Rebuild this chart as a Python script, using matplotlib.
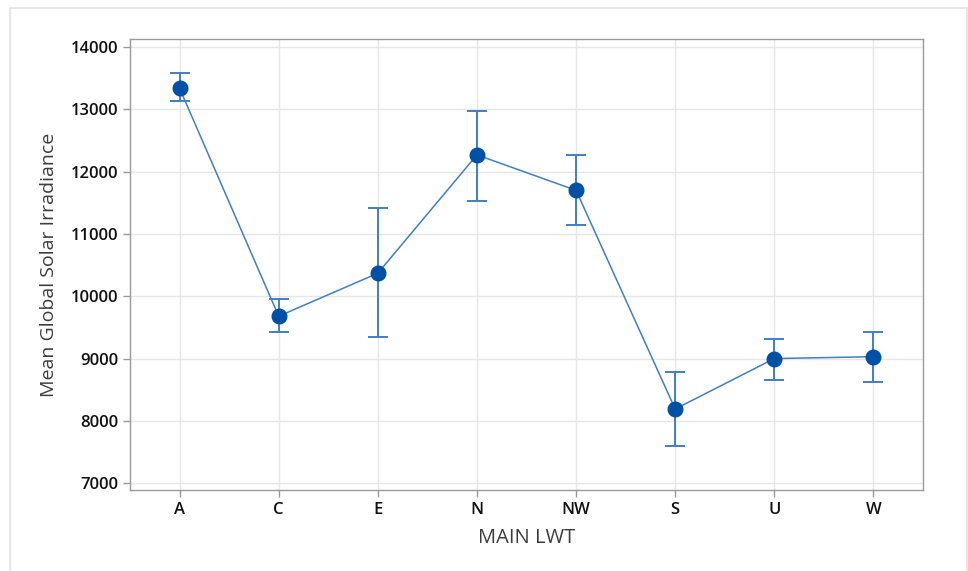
import numpy as np
import matplotlib
matplotlib.use("Agg")
from matplotlib import pyplot as plt
from matplotlib.patches import Rectangle

# data
lwt = ['A', 'C', 'E', 'N', 'NW', 'S', 'U', 'W']
mean_irr = [13340, 9680, 10370, 12270, 11700, 8190, 9000, 9030]
upper_ci = [13590, 9950, 11420, 12970, 12270, 8780, 9320, 9420]
lower_ci = [13130, 9430, 9340, 11536, 11150, 7600, 8650, 8620]

plt.rcParams['font.family'] = ['Open Sans', 'DejaVu Sans']

fig = plt.figure(figsize=(9.68, 5.71), dpi=100)
# light frame round the whole picture
fig.patches.append(Rectangle((10/968, -0.01), 957/968, 1 - 8/571 + 0.01,
                             transform=fig.transFigure, fill=False,
                             edgecolor='#e3e3e3', linewidth=1.2))

ax = fig.add_axes([130/968, 1 - 490/571, 793/968, 451/571])

x = np.arange(len(lwt))
m = np.array(mean_irr)
yerr = [m - np.array(lower_ci), np.array(upper_ci) - m]

ax.plot(x, m, color='#3f7fc4', linewidth=1.1, zorder=2)
ax.errorbar(x, m, yerr=yerr, fmt='none', ecolor='#3f7fc4', elinewidth=1.4,
            capsize=7, capthick=1.4, zorder=3)
ax.plot(x, m, 'o', color='#0050a5', markersize=10.5, zorder=4)

ax.set_xlim(-0.5, len(lwt) - 0.5)
ax.set_ylim(6890, 14130)
ax.set_xticks(x)
ax.set_xticklabels(lwt)
ax.set_yticks(np.arange(7000, 14001, 1000))

ax.grid(True, color='#e6e6e6', linewidth=1.0, zorder=0)
ax.set_axisbelow(True)
for s in ax.spines.values():
    s.set_color('#9a9a9a')
    s.set_linewidth(1.0)
ax.tick_params(axis='both', colors='#9a9a9a', length=5, width=1.0,
               labelcolor='#111111', labelsize=12)
for lbl in ax.get_xticklabels() + ax.get_yticklabels():
    lbl.set_fontweight('semibold')

ax.set_xlabel('MAIN LWT', fontsize=14.5, color='#3c3c3c', labelpad=7)
ax.set_ylabel('Mean Global Solar Irradiance', fontsize=14, color='#3c3c3c',
              labelpad=9)

fig.savefig('out.png', dpi=100)
